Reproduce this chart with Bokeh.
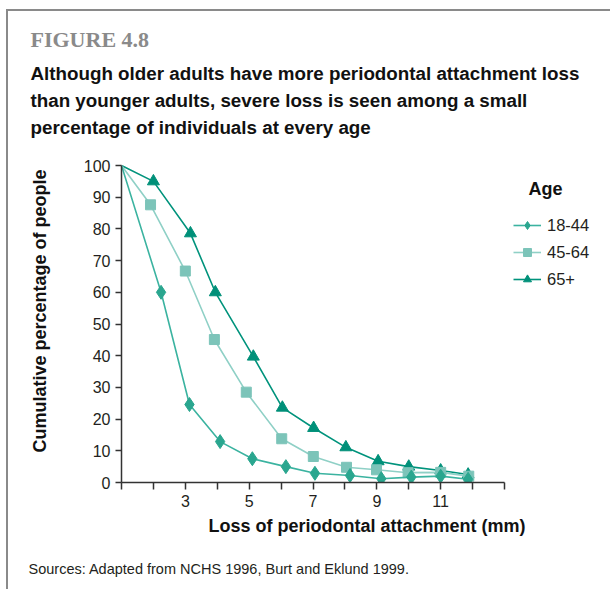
from bokeh.plotting import figure
from bokeh.models import Legend, LegendItem, FixedTicker, Range1d, Title, Label
from bokeh.embed import file_html
from bokeh.resources import INLINE

# ---- data ----
start_x = 1.0
start_y = 100.0
x_18_44 = [2.24, 3.13, 4.09, 5.10, 6.15, 7.06, 8.16, 9.14, 10.08, 11.00, 11.86]
y_18_44 = [60.0, 24.6, 12.9, 7.5, 5.0, 2.9, 2.2, 1.2, 1.7, 2.0, 1.0]
x_45_64 = [1.91, 3.00, 3.91, 4.91, 6.02, 7.01, 8.05, 8.99, 9.98, 11.00, 11.88]
y_45_64 = [87.6, 66.7, 45.1, 28.5, 13.8, 8.2, 4.8, 4.0, 3.1, 3.2, 2.0]
x_65 = [2.00, 3.16, 3.94, 5.13, 6.04, 7.02, 8.03, 9.04, 10.00, 11.00, 11.86]
y_65 = [95.0, 78.6, 60.0, 39.7, 23.6, 17.2, 11.1, 6.7, 5.0, 3.8, 2.5]
series_names = ["18-44", "45-64", "65+"]
legend_title = "Age"
x_ticks = list(range(1, 14))
x_tick_labels = {3: "3", 5: "5", 7: "7", 9: "9", 11: "11"}
y_ticks = list(range(0, 101, 10))
fig_label = "FIGURE 4.8"
title_lines = ["Although older adults have more periodontal attachment loss",
               "than younger adults, severe loss is seen among a small",
               "percentage of individuals at every age"]
x_label = "Loss of periodontal attachment (mm)"
y_label = "Cumulative percentage of people"
source_note = "Sources:  Adapted from NCHS 1996, Burt and Eklund 1999."

SANS = "'Liberation Sans', Arial, sans-serif"
SERIF = "'Liberation Serif', 'DejaVu Serif', serif"
TXT = "#231f20"
DARK = "#111111"

# canvas placed at page (8, 11) by CSS margins, with a grey border line left/top
W, H = 604, 580
BL, BR, BT, BB = 113, 0, 128, 109
PX_PER_X = 383 / 12.0
PX_PER_Y = 317 / 100.0
x_end = 1 + (W - BL - BR) / PX_PER_X
y_end = (H - BT - BB) / PX_PER_Y

p = figure(width=W, height=H, output_backend="svg", toolbar_location=None,
           x_range=Range1d(1, x_end), y_range=Range1d(0, y_end),
           min_border_left=BL, min_border_right=BR,
           min_border_top=BT, min_border_bottom=BB)
p.styles = {"margin-left": "6px", "margin-top": "9px",
            "border-left": "2px solid #8a8a8a", "border-top": "2px solid #8a8a8a"}
p.outline_line_color = None
p.grid.visible = False

for ax in (p.xaxis[0], p.yaxis[0]):
    ax.axis_line_color = "#333333"
    ax.axis_line_width = 1.5
    ax.major_tick_line_color = "#333333"
    ax.major_tick_line_width = 1.5
    ax.major_tick_in = 0
    ax.minor_tick_line_color = None
    ax.major_label_text_font = SANS
    ax.major_label_text_font_size = "16px"
    ax.major_label_text_color = TXT
    ax.axis_label_text_font = SANS
    ax.axis_label_text_font_size = "18px"
    ax.axis_label_text_font_style = "bold"
    ax.axis_label_text_color = DARK

p.xaxis.ticker = FixedTicker(ticks=x_ticks)
p.xaxis.bounds = (1, 13)
p.xaxis.major_label_overrides = {t: x_tick_labels.get(t, "") for t in x_ticks}
p.xaxis.major_tick_out = 7
p.xaxis.major_label_standoff = 5
p.xaxis.axis_label = x_label
p.xaxis.axis_label_standoff = 6
p.yaxis.ticker = FixedTicker(ticks=y_ticks)
p.yaxis.bounds = (0, 100)
p.yaxis.major_tick_out = 6
p.yaxis.major_label_standoff = 5
p.yaxis.axis_label = y_label
p.yaxis.axis_label_text_font_size = "18px"
p.yaxis.axis_label_standoff = 31

c18_line, c18_mark = "#3bb3a0", "#2aa68f"
c45_line, c45_mark = "#8fd0c6", "#7cc4b9"
c65_line, c65_mark = "#00937c", "#009079"

l65 = p.line([start_x] + x_65, [start_y] + y_65, line_color=c65_line, line_width=1.6)
m65 = p.scatter(x_65, y_65, marker="triangle", size=12, fill_color=c65_mark, line_color=c65_mark)
l45 = p.line([start_x] + x_45_64, [start_y] + y_45_64, line_color=c45_line, line_width=1.6)
m45 = p.scatter(x_45_64, y_45_64, marker="square", size=10, fill_color=c45_mark, line_color=c45_mark)
l18 = p.line([start_x] + x_18_44, [start_y] + y_18_44, line_color=c18_line, line_width=1.6)
m18 = p.scatter(x_18_44, y_18_44, marker="diamond", size=14,
                fill_color=c18_mark, line_color=c18_mark)

legend = Legend(items=[
    LegendItem(label=series_names[0], renderers=[l18, m18]),
    LegendItem(label=series_names[1], renderers=[l45, m45]),
    LegendItem(label=series_names[2], renderers=[l65, m65]),
], location=(392, 193), orientation="vertical")
legend.border_line_color = None
legend.background_fill_alpha = 0
legend.padding = 0
legend.margin = 0
legend.spacing = 7
legend.glyph_width = 28
legend.glyph_height = 20
legend.label_height = 20
legend.label_standoff = 6
legend.label_text_font = SANS
legend.label_text_font_size = "16.5px"
legend.label_text_color = TXT
p.add_layout(legend, "center")

FL, FB = 8 + BL, 11 + H - BB   # page coords of frame left / bottom
p.add_layout(Label(x=545 - FL, y=FB - 188, x_units="screen", y_units="screen",
                   text=legend_title, text_font=SANS, text_font_size="18px",
                   text_font_style="bold", text_color=DARK,
                   text_align="center", text_baseline="middle"))


def heading(text, standoff, size="18.8px", font=SANS, color=DARK, offset=-91):
    return Title(text=text, align="left", offset=offset, standoff=standoff,
                 text_font=font, text_font_size=size, text_font_style="bold",
                 text_color=color)


# above: first added sits nearest the frame, p.title outermost
p.title = heading(fig_label, 13, size="22px", font=SERIF, color="#8a8a8a")
p.add_layout(heading(title_lines[2], 4), "above")
p.add_layout(heading(title_lines[1], 4), "above")
p.add_layout(heading(title_lines[0], 4), "above")

# below: a blank spacer, then the sources note
p.add_layout(Title(text=" ", text_font=SANS, text_font_size="14.5px", standoff=1,
                   text_color="white"), "below")
p.add_layout(Title(text=source_note, align="left", offset=-93, standoff=2,
                   text_font=SANS, text_font_size="14.5px", text_font_style="normal",
                   text_color=TXT), "below")

open("out.html", "w").write(file_html(p, INLINE))
